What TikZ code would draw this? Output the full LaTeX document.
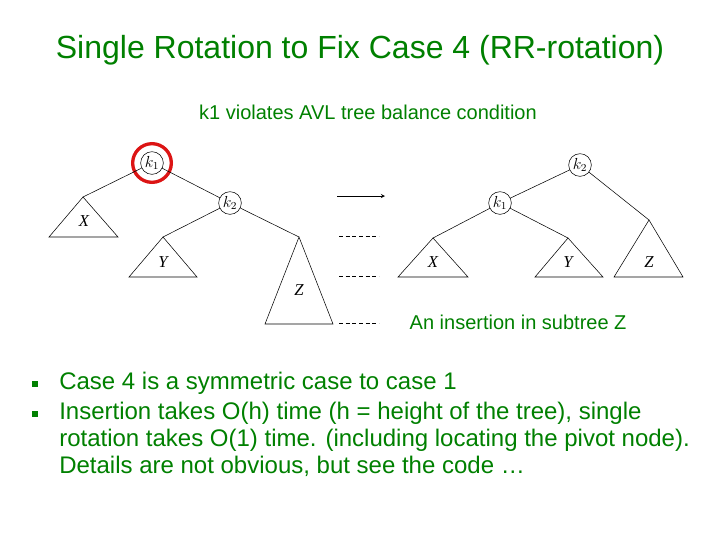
\documentclass[tikz,border=0pt]{standalone}
\usepackage{fontspec}
\setmainfont{Liberation Sans}
\newfontfamily\tnr{Liberation Serif}
\definecolor{slidegreen}{RGB}{0,128,0}
\begin{document}
\begin{tikzpicture}[x=0.75pt,y=-0.75pt,
  knode/.style={circle,draw,thin,minimum size=17pt,inner sep=0pt,font=\tnr\itshape\fontsize{12}{12}\selectfont},
  tri/.style={draw,thin},
  lbl/.style={font=\tnr\itshape\fontsize{12.5}{12}\selectfont},
  edge/.style={draw,thin},
  dsh/.style={draw,thin,dashed,dash pattern=on 3pt off 2pt},
  slide/.style={text=slidegreen},
  bul/.style={fill=slidegreen,minimum size=4pt,inner sep=0pt}]
\useasboundingbox (0,0) rectangle (720,540);
\node[slide,font=\fontsize{24}{28}\selectfont] (title) at (360,50) {Single Rotation to Fix Case 4 (RR-rotation)};
\node[slide,font=\fontsize{15}{18}\selectfont] (cap) at (368,112) {k1 violates AVL tree balance condition};
% left tree
\node[knode] (a1) at (152,163) {$k_1$};
\node[draw={rgb,255:red,220;green,20;blue,20},line width=2.5pt,circle,minimum size=29pt] (ring) at (152,163) {};
\node[knode] (a2) at (230,203) {$k_2$};
\coordinate (aX) at (83,197); \coordinate (aY) at (163,237); \coordinate (aZ) at (299,237);
\draw[tri] (aX) -- (49,237) -- (118,237) -- cycle;
\draw[tri] (aY) -- (129,277) -- (197,277) -- cycle;
\draw[tri] (aZ) -- (265,324) -- (333,324) -- cycle;
\node[lbl] (lX) at (84,221) {X};
\node[lbl] (lY) at (163,262) {Y};
\node[lbl] (lZ) at (299,290) {Z};
\draw[edge] (a1) -- (aX); \draw[edge] (a1) -- (a2);
\draw[edge] (a2) -- (aY); \draw[edge] (a2) -- (aZ);
% arrow and dashed
\coordinate (ar1) at (337,196); \coordinate (ar2) at (385,196);
\draw[thin,-stealth] (ar1) -- (ar2);
\coordinate (d1a) at (339,236); \coordinate (d1b) at (379,236);
\coordinate (d2a) at (339,276); \coordinate (d2b) at (379,276);
\coordinate (d3a) at (339,323); \coordinate (d3b) at (379,323);
\draw[dsh] (d1a) -- (d1b); \draw[dsh] (d2a) -- (d2b); \draw[dsh] (d3a) -- (d3b);
\node[slide,font=\fontsize{15}{18}\selectfont,anchor=west] (ins) at (405,322) {An insertion in subtree Z};
% right tree
\node[knode] (b2) at (580,165) {$k_2$};
\node[knode] (b1) at (500,203) {$k_1$};
\coordinate (bX) at (433,238); \coordinate (bY) at (568,238); \coordinate (bZ) at (649,220);
\draw[tri] (bX) -- (398,277) -- (468,277) -- cycle;
\draw[tri] (bY) -- (535,277) -- (603,277) -- cycle;
\draw[tri] (bZ) -- (614,277) -- (683,277) -- cycle;
\node[lbl] (rX) at (433,262) {X};
\node[lbl] (rY) at (568,262) {Y};
\node[lbl] (rZ) at (649,262) {Z};
\draw[edge] (b2) -- (b1); \draw[edge] (b2) -- (bZ);
\draw[edge] (b1) -- (bX); \draw[edge] (b1) -- (bY);
% bullets
\node[bul] (bu1) at (35,384) {};
\node[bul] (bu2) at (35,414) {};
\node[slide,font=\fontsize{18}{20}\selectfont,anchor=west,inner sep=0pt] (t1) at (59,383) {Case 4 is a symmetric case to case 1};
\node[slide,font=\fontsize{18}{20}\selectfont,anchor=north west,align=left,inner sep=0pt] (t2) at (59,402) {Insertion takes O(h) time (h = height of the tree), single\\rotation takes O(1) time. (including locating the pivot node).\\Details are not obvious, but see the code …};
\end{tikzpicture}
\end{document}
